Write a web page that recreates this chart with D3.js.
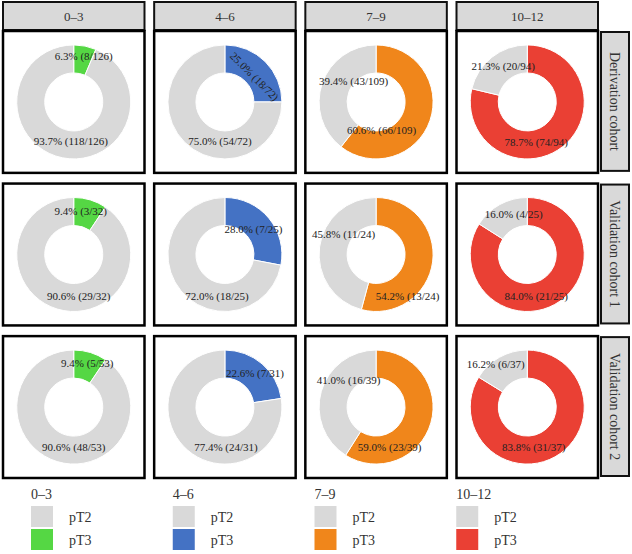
<!DOCTYPE html>
<html>
<head>
<meta charset="utf-8">
<script src="https://cdn.jsdelivr.net/npm/d3@7"></script>
<style>
  body { margin: 0; background: #fff; }
  svg text { font-family: "Times New Roman", "Liberation Serif", Tinos, serif; fill: #222; }
</style>
</head>
<body>
<div id="chart"></div>
<script>
// score groups (columns) and cohorts (rows)
const groups = ["0–3", "4–6", "7–9", "10–12"];
const cohorts = ["Derivation cohort", "Validation cohort 1", "Validation cohort 2"];
const stages = ["pT2", "pT3"];

// patient counts, one row per cohort, one value per score group
const pT2Counts = [
    [118, 54, 43, 20],
    [29, 18, 11, 4],
    [48, 24, 16, 6]
];
const pT3Counts = [
    [8, 18, 66, 74],
    [3, 7, 13, 21],
    [5, 7, 23, 31]
];

const groupColors = ["#55d744", "#4472c4", "#f0861b", "#ea4034"];
const greyColor = "#d9d9d9";

// hand placement of the data labels, relative to the donut centre: [pT3, pT2]
const labelNudge = [
    [[[10, -46], [-3, 39]], [[29.5, -25.5], [-5, 39]], [[5.5, 28], [-22.5, -21]], [[9, 40], [-24, -36]]],
    [[[7, -43], [5, 42]], [[28.5, -25], [-8, 42]], [[31.5, 42], [-32.5, -20]], [[9, 42], [-13.5, -40]]],
    [[[13.5, -44], [0, 40]], [[30, -34], [1, 40]], [[13.5, 40], [-27.5, -27]], [[6.5, 40], [-31.5, -43]]]
];

const width = 632, height = 554;
const fontFam = "'Liberation Serif', 'Times New Roman', serif";
const svg = d3.select("#chart").append("svg")
    .attr("width", width)
    .attr("height", height)
    .attr("font-family", fontFam);

const xBand = d3.scaleBand().domain(d3.range(groups.length)).range([3, 598]).paddingInner(0.064);
const yBand = d3.scaleBand().domain(d3.range(cohorts.length)).range([31, 478]).paddingInner(0.07);

const outerR = 57, innerR = 29;
const pie = d3.pie().sort(null).value(d => d.value);
const arc = d3.arc().innerRadius(innerR).outerRadius(outerR);

// column headers
const headers = svg.append("g").selectAll("g")
    .data(groups)
    .join("g")
    .attr("transform", (d, i) => `translate(${xBand(i)},2)`);
headers.append("rect")
    .attr("width", xBand.bandwidth())
    .attr("height", 28)
    .attr("fill", greyColor)
    .attr("stroke", "#111")
    .attr("stroke-width", 2);
headers.append("text")
    .attr("x", xBand.bandwidth() / 2)
    .attr("y", 14)
    .attr("dy", "0.35em")
    .attr("text-anchor", "middle")
    .style("font-family", fontFam)
    .style("font-size", "13px")
    .style("fill", "#333")
    .text(d => d);

// row labels on the right
const rowLabels = svg.append("g").selectAll("g")
    .data(cohorts)
    .join("g")
    .attr("transform", (d, i) => `translate(601,${yBand(i) + 1})`);
rowLabels.append("rect")
    .attr("width", 28)
    .attr("height", yBand.bandwidth() - 3)
    .attr("fill", greyColor)
    .attr("stroke", "#111")
    .attr("stroke-width", 2);
rowLabels.append("text")
    .attr("transform", `translate(14,${(yBand.bandwidth() - 3) / 2}) rotate(90)`)
    .attr("dy", "0.35em")
    .attr("text-anchor", "middle")
    .style("font-family", fontFam)
    .style("font-size", "14px")
    .style("fill", "#333")
    .text(d => d);

// donut panels
cohorts.forEach((cohort, r) => {
    groups.forEach((grp, c) => {
        const slices = [
            { stage: "pT3", value: pT3Counts[r][c], color: groupColors[c] },
            { stage: "pT2", value: pT2Counts[r][c], color: greyColor }
        ];
        const total = d3.sum(slices, d => d.value);

        const panel = svg.append("g")
            .attr("transform", `translate(${xBand(c)},${yBand(r)})`);
        panel.append("rect")
            .attr("width", xBand.bandwidth())
            .attr("height", yBand.bandwidth())
            .attr("fill", "#fff")
            .attr("stroke", "#000")
            .attr("stroke-width", 2.5);

        const donut = panel.append("g")
            .attr("transform", `translate(${xBand.bandwidth() / 2},${yBand.bandwidth() / 2})`);
        donut.selectAll("path")
            .data(pie(slices))
            .join("path")
            .attr("d", arc)
            .attr("fill", d => d.data.color)
            .attr("stroke", "#fff")
            .attr("stroke-width", 1);

        donut.selectAll("text")
            .data(slices)
            .join("text")
            .attr("transform", (d, i) => {
                const [dx, dy] = labelNudge[r][c][i];
                const rot = (r === 0 && c === 1 && i === 0) ? " rotate(45)" : "";
                return `translate(${dx},${dy})${rot}`;
            })
            .attr("dy", "0.35em")
            .attr("text-anchor", "middle")
            .style("font-family", fontFam)
            .style("font-size", "11px")
            .text(d => `${(d.value / total * 100).toFixed(1)}% (${d.value}/${total})`);
    });
});

// legend
const legendX = d3.scaleBand().domain(d3.range(groups.length)).range([31, 598]);
const legend = svg.append("g").selectAll("g")
    .data(groups)
    .join("g")
    .attr("transform", (d, i) => `translate(${legendX(i)},0)`);
legend.append("text")
    .attr("x", 0)
    .attr("y", 494)
    .attr("dy", "0.35em")
    .style("font-family", fontFam)
    .style("font-size", "14px")
    .style("fill", "#333")
    .text(d => d);
stages.forEach((s, k) => {
    legend.append("rect")
        .attr("x", 0)
        .attr("y", 506 + k * 23)
        .attr("width", 22)
        .attr("height", 21)
        .attr("fill", (d, i) => k === 0 ? greyColor : groupColors[i]);
    legend.append("text")
        .attr("x", 38)
        .attr("y", 517 + k * 23)
        .attr("dy", "0.35em")
        .style("font-family", fontFam)
        .style("font-size", "14px")
        .style("fill", "#333")
        .text(s);
});
</script>
</body>
</html>
